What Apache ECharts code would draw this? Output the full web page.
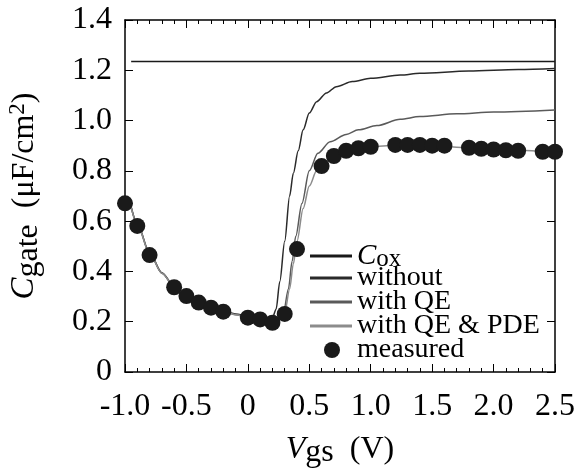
<!DOCTYPE html>
<html>
<head>
<meta charset="utf-8">
<script src="https://cdn.jsdelivr.net/npm/echarts@6/dist/echarts.min.js"></script>
<style>
  html, body { margin: 0; padding: 0; background: #fff; }
  #chart { width: 577px; height: 468px; }
</style>
</head>
<body>
<div id="chart"></div>
<script>
// measured points
var vgsMeasured = [-1.0, -0.9, -0.8, -0.6, -0.5, -0.4, -0.3, -0.2, 0, 0.1, 0.2, 0.3, 0.4,
  0.6, 0.7, 0.8, 0.9, 1.0, 1.2, 1.3, 1.4, 1.5, 1.6, 1.8, 1.9, 2.0, 2.1, 2.2, 2.4, 2.5];
var cMeasured = [0.671, 0.581, 0.465, 0.337, 0.302, 0.276, 0.256, 0.240, 0.216, 0.209, 0.196, 0.231, 0.489,
  0.819, 0.859, 0.880, 0.890, 0.896, 0.903, 0.903, 0.903, 0.900, 0.900, 0.892, 0.888, 0.885, 0.882, 0.880, 0.876, 0.876];

// Cox
var vgsCox = [-0.95, 2.5];
var cCox = [1.235, 1.235];

// simulation without
var vgsWithout = [-0.95, -0.9, -0.8, -0.7, -0.6, -0.5, -0.4, -0.3, -0.2, -0.1, 0, 0.1, 0.2, 0.23, 0.26, 0.3, 0.34, 0.37,
  0.41, 0.45, 0.5, 0.56, 0.64, 0.72, 0.85, 1.0, 1.24, 1.4, 1.8, 2.2, 2.5];
var cWithout = [0.658, 0.59, 0.475, 0.395, 0.342, 0.303, 0.278, 0.258, 0.243, 0.231, 0.222, 0.216, 0.215, 0.25, 0.36, 0.52, 0.70, 0.79,
  0.88, 0.963, 1.03, 1.075, 1.11, 1.135, 1.155, 1.168, 1.181, 1.188, 1.197, 1.203, 1.207];

// with QE
var vgsQE = [-0.95, -0.9, -0.8, -0.7, -0.6, -0.5, -0.4, -0.3, -0.2, -0.1, 0, 0.1, 0.2, 0.25, 0.29, 0.33, 0.36, 0.39,
  0.44, 0.5, 0.57, 0.67, 0.8, 0.9, 1.05, 1.24, 1.4, 1.7, 2.0, 2.5];
var cQE = [0.655, 0.587, 0.472, 0.393, 0.34, 0.30, 0.275, 0.255, 0.24, 0.228, 0.218, 0.21, 0.205, 0.212, 0.235, 0.33, 0.44, 0.54,
  0.67, 0.80, 0.87, 0.916, 0.945, 0.963, 0.98, 1.005, 1.016, 1.027, 1.034, 1.042];

// with QE & PDE
var vgsPDE = [-0.95, -0.9, -0.8, -0.7, -0.6, -0.5, -0.4, -0.3, -0.2, -0.1, 0, 0.1, 0.2, 0.25, 0.3, 0.34, 0.37, 0.40,
  0.45, 0.5, 0.56, 0.6, 0.7, 0.8, 0.9, 1.0, 1.2, 1.5, 1.8, 2.1, 2.5];
var cPDE = [0.655, 0.587, 0.472, 0.393, 0.34, 0.30, 0.275, 0.255, 0.24, 0.228, 0.218, 0.21, 0.205, 0.21, 0.235, 0.33, 0.43, 0.52,
  0.65, 0.74, 0.80, 0.825, 0.86, 0.88, 0.89, 0.896, 0.902, 0.899, 0.892, 0.883, 0.875];

var legendNames = ['Cox', 'without', 'with QE', 'with QE & PDE', 'measured'];

function pairs(xs, ys) {
  return xs.map(function (x, i) { return [x, ys[i]]; });
}
function tickFmt(v) {
  return v === 0 ? '0' : v.toFixed(1);
}

var serif = '"Liberation Serif", "DejaVu Serif", serif';
var chart = echarts.init(document.getElementById('chart'));

var lineSeries = function (name, data, color, width) {
  return {
    name: name,
    type: 'line',
    data: data,
    showSymbol: false,
    symbol: 'none',
    smooth: 0.3,
    smoothMonotone: 'x',
    lineStyle: { color: color, width: width },
    itemStyle: { color: color },
    silent: true,
    z: 2
  };
};

// one legend per row so the rows sit 24px apart like the original
var legendTextStyle = {
  fontFamily: serif, fontSize: 28, color: '#000', lineHeight: 24,
  rich: {
    i: { fontFamily: serif, fontSize: 29, fontStyle: 'italic', color: '#000', lineHeight: 24 },
    s: { fontFamily: serif, fontSize: 25, color: '#000', lineHeight: 24, padding: [7, 0, 0, 0] }
  }
};
var legends = legendNames.map(function (name, i) {
  var isDot = name === 'measured';
  return {
    data: [name],
    left: isDot ? 324 : 310,
    top: 240 + i * 24,
    padding: 0,
    icon: isDot ? 'circle' : 'rect',
    itemWidth: isDot ? 16 : 42,
    itemHeight: isDot ? 16 : 3,
    selectedMode: false,
    formatter: function (n) {
      return n === 'Cox' ? '{i|C}{s|ox}' : n;
    },
    textStyle: isDot
      ? { fontFamily: serif, fontSize: 28, color: '#000', lineHeight: 24, padding: [0, 0, 0, 12] }
      : legendTextStyle
  };
});

var option = {
  backgroundColor: '#fff',
  animation: false,
  grid: { left: 125, right: 22, top: 20, bottom: 96, outerBoundsMode: 'none' },
  legend: legends,
  xAxis: [
    {
      type: 'value',
      min: -1.0,
      max: 2.5,
      interval: 0.5,
      name: '{i|V}{s|gs}  (V)',
      nameLocation: 'middle',
      nameGap: 58,
      nameTextStyle: {
        fontFamily: serif, fontSize: 32, color: '#000',
        rich: {
          i: { fontFamily: serif, fontSize: 32, fontStyle: 'italic', color: '#000' },
          s: { fontFamily: serif, fontSize: 32, color: '#000', padding: [7, 0, 0, 0] }
        }
      },
      axisLine: { show: true, onZero: false, lineStyle: { color: '#000', width: 1.5 } },
      axisTick: { show: true, inside: true, length: 8, lineStyle: { color: '#000', width: 1 } },
      minorTick: { show: true, splitNumber: 5, length: 4, lineStyle: { color: '#000', width: 1 } },
      axisLabel: { formatter: tickFmt, fontFamily: serif, fontSize: 32, color: '#000', margin: 19, showMinLabel: true, showMaxLabel: true },
      splitLine: { show: false }
    },
    {
      type: 'value',
      position: 'top',
      min: -1.0,
      max: 2.5,
      interval: 0.5,
      axisLine: { show: true, onZero: false, lineStyle: { color: '#000', width: 1.5 } },
      axisTick: { show: true, inside: true, length: 8, lineStyle: { color: '#000', width: 1 } },
      minorTick: { show: true, splitNumber: 5, length: 4, lineStyle: { color: '#000', width: 1 } },
      axisLabel: { show: false },
      splitLine: { show: false }
    }
  ],
  yAxis: [
    {
      type: 'value',
      min: 0,
      max: 1.4,
      interval: 0.2,
      name: '{i|C}{s|gate}  (μF/cm{p|2})',
      nameLocation: 'middle',
      nameRotate: 90,
      nameGap: 80,
      nameTextStyle: {
        fontFamily: serif, fontSize: 32, color: '#000',
        rich: {
          i: { fontFamily: serif, fontSize: 33, fontStyle: 'italic', color: '#000' },
          s: { fontFamily: serif, fontSize: 32, color: '#000', padding: [9, 0, 0, 0] },
          p: { fontFamily: serif, fontSize: 23, color: '#000', padding: [0, 0, 14, 0] }
        }
      },
      axisLine: { show: true, onZero: false, lineStyle: { color: '#000', width: 1.5 } },
      axisTick: { show: true, inside: true, length: 8, lineStyle: { color: '#000', width: 1 } },
      axisLabel: { formatter: tickFmt, fontFamily: serif, fontSize: 32, color: '#000', margin: 13 },
      splitLine: { show: false }
    },
    {
      type: 'value',
      position: 'right',
      min: 0,
      max: 1.4,
      interval: 0.2,
      axisLine: { show: true, onZero: false, lineStyle: { color: '#000', width: 1.5 } },
      axisTick: { show: true, inside: true, length: 8, lineStyle: { color: '#000', width: 1 } },
      axisLabel: { show: false },
      splitLine: { show: false }
    }
  ],
  series: [
    lineSeries('Cox', pairs(vgsCox, cCox), '#1a1a1a', 1.5),
    lineSeries('without', pairs(vgsWithout, cWithout), '#2a2a2a', 1.5),
    lineSeries('with QE', pairs(vgsQE, cQE), '#5a5a5a', 1.5),
    lineSeries('with QE & PDE', pairs(vgsPDE, cPDE), '#8c8c8c', 1.5),
    {
      name: 'measured',
      type: 'scatter',
      data: pairs(vgsMeasured, cMeasured),
      symbol: 'circle',
      symbolSize: 16,
      clip: false,
      itemStyle: { color: '#1a1a1a', opacity: 1 },
      silent: true,
      z: 3
    }
  ]
};

chart.setOption(option);
</script>
</body>
</html>
